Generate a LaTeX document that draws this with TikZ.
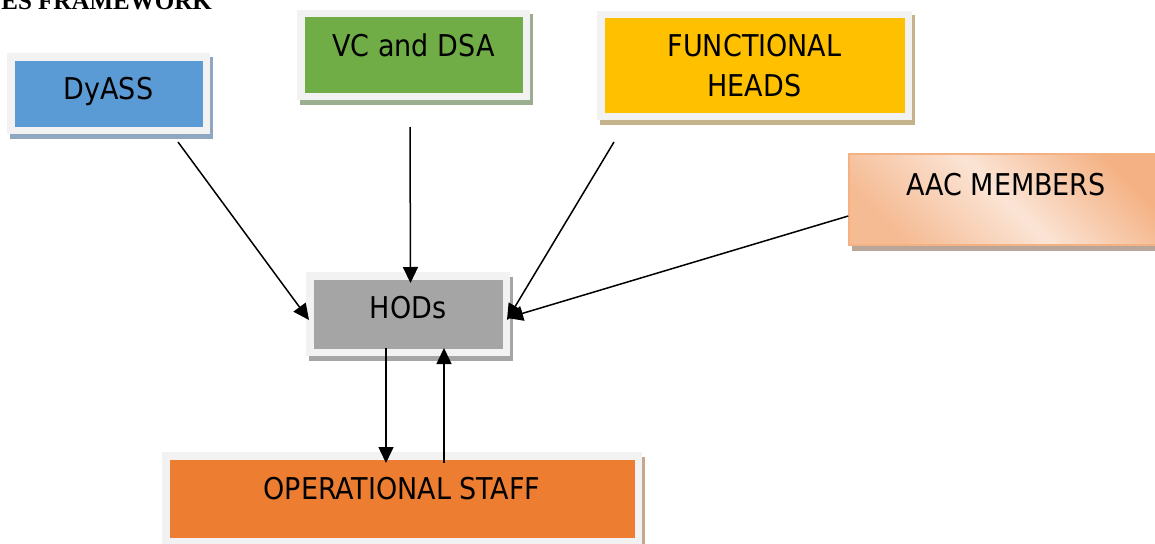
\documentclass[tikz,border=0pt]{standalone}
\usepackage{fontspec}
\usepackage{xcolor}
\usetikzlibrary{arrows.meta}
\setmainfont{DejaVu Sans Condensed}
\newfontfamily\titlefont{Liberation Serif}
\definecolor{framegray}{HTML}{F2F2F2}
\definecolor{dyblue}{HTML}{5B9BD5}
\definecolor{dyshadow}{HTML}{8FA7C0}
\definecolor{vcgreen}{HTML}{70AD47}
\definecolor{vcshadow}{HTML}{9BAE8F}
\definecolor{fhyellow}{HTML}{FFC000}
\definecolor{fhshadow}{HTML}{C4B38A}
\definecolor{hodgray}{HTML}{A5A5A5}
\definecolor{opsorange}{HTML}{ED7D31}
\definecolor{opsshadow}{HTML}{C8A78F}
\definecolor{aacdark}{HTML}{F4B183}
\definecolor{aaclight}{HTML}{FBE4D5}
\definecolor{aacshadow}{HTML}{B9A69A}

\begin{document}
\begin{tikzpicture}[x=1pt, y=-1pt,
    box/.style 2 args={draw=framegray, line width=7.5pt, fill=#1, inner sep=0pt,
        align=center, font=\fontsize{30}{40}\selectfont,
        preaction={fill=#2, draw=#2, line width=7.5pt, transform canvas={shift={(3pt,-4.5pt)}}}},
    link/.style={line width=1.5pt, -{Triangle[length=16pt, width=15pt]}}]
    \clip (0,0) rectangle (1155,543);
    % title
    \node[anchor=base east, inner sep=0pt, font=\titlefont\fontsize{25}{30}\selectfont\bfseries] (title) at (212,9.5) {ES FRAMEWORK};
    % boxes
    \node[box={dyblue}{dyshadow}, minimum width=195.5pt, minimum height=73.5pt, text height=21pt, text depth=9pt] (dyass) at (108.5,93.5) {DyASS};
    \node[box={vcgreen}{vcshadow}, minimum width=225.5pt, minimum height=82.5pt, text height=22pt, text depth=19pt] (vc) at (413.5,55) {VC and DSA};
    \node[box={fhyellow}{fhshadow}, minimum width=307.5pt, minimum height=101.5pt] (fh) at (754.5,65.5) {FUNCTIONAL\\HEADS};
    \node[draw=aacdark, line width=1.5pt, top color=aacdark, bottom color=aacdark!80!aaclight, middle color=aaclight, shading angle=-45,
        preaction={fill=aacshadow, transform canvas={shift={(3pt,-6pt)}}},
        minimum width=314pt, minimum height=91pt, inner sep=0pt, font=\fontsize{30}{40}\selectfont,
        text height=21pt, text depth=29pt] (aac) at (1006,199.5) {AAC MEMBERS};
    \node[box={hodgray}{hodgray}, minimum width=196.5pt, minimum height=76.5pt, text height=22pt, text depth=14pt] (hods) at (408,314) {HODs};
    \node[box={opsorange}{opsshadow}, minimum width=472.5pt, minimum height=85.5pt, text height=21pt, text depth=20pt] (ops) at (402,498.5) {OPERATIONAL STAFF};
    % arrows
    \draw[link] ([xshift=69.5pt, yshift=-8pt]dyass.south) -- ([xshift=3pt, yshift=-6pt]hods.west);
    \draw[link] ([xshift=-3.5pt, yshift=-27pt]vc.south) -- ([xshift=2.5pt, yshift=-11pt]hods.north);
    \draw[link] ([xshift=17pt, yshift=-22pt]fh.south west) -- ([xshift=-3pt, yshift=-6pt]hods.east);
    \draw[link] ([yshift=-16.5pt]aac.west) -- ([xshift=-3pt, yshift=-4pt]hods.east);
    \draw[link] ([xshift=-22pt, yshift=8pt]hods.south) -- ([xshift=-16pt, yshift=-11pt]ops.north);
    \draw[link] ([xshift=42pt, yshift=-11pt]ops.north) -- ([xshift=36pt, yshift=8pt]hods.south);
\end{tikzpicture}
\end{document}
